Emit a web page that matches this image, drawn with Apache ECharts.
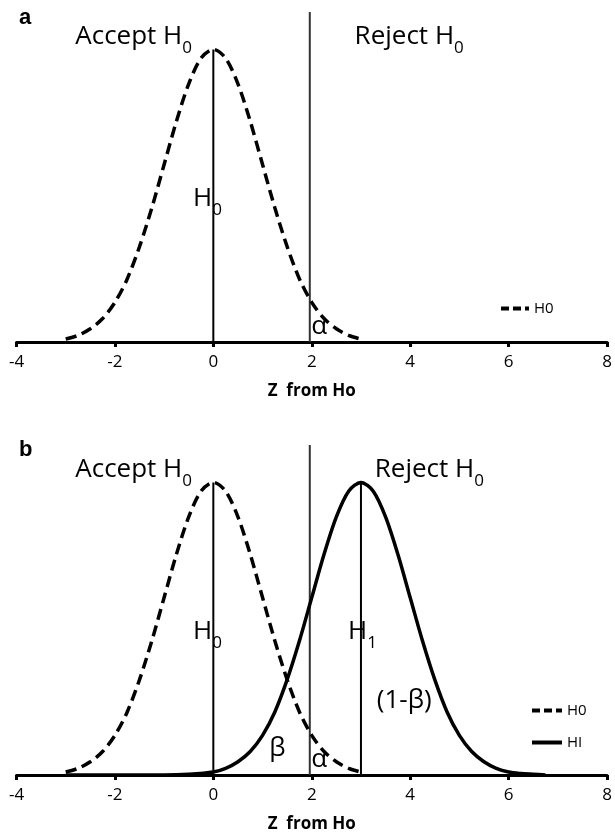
<!DOCTYPE html>
<html>
<head>
<meta charset="utf-8">
<script src="https://cdn.jsdelivr.net/npm/echarts@6/dist/echarts.min.js"></script>
<style>
  html, body { margin: 0; padding: 0; background: #fff; }
  #chart { width: 615px; height: 834px; }
</style>
</head>
<body>
<div id="chart"></div>
<script>
// z values and densities
const zH0 = [-3, -2.75, -2.5, -2.25, -2, -1.75, -1.5, -1.25, -1, -0.75, -0.5, -0.25, 0,
  0.25, 0.5, 0.75, 1, 1.25, 1.5, 1.75, 2, 2.25, 2.5, 2.75, 3]
const h0 = [0.004, 0.009, 0.018, 0.032, 0.054, 0.086, 0.130, 0.183, 0.242, 0.301, 0.352, 0.387, 0.399,
  0.387, 0.352, 0.301, 0.242, 0.183, 0.130, 0.086, 0.054, 0.032, 0.018, 0.009, 0.004]

const zH1 = [-3, -2, -1, -0.5, 0, 0.25, 0.5, 0.75, 1, 1.25, 1.5, 1.75, 2, 2.25, 2.5, 2.75, 3,
  3.25, 3.5, 3.75, 4, 4.25, 4.5, 4.75, 5, 5.25, 5.5, 5.75, 6, 6.25, 6.5, 6.75]
const h1 = [0, 0, 0, 0.001, 0.004, 0.009, 0.018, 0.032, 0.054, 0.086, 0.130, 0.183, 0.242, 0.301, 0.352, 0.387, 0.399,
  0.387, 0.352, 0.301, 0.242, 0.183, 0.130, 0.086, 0.054, 0.032, 0.018, 0.009, 0.004, 0.002, 0.001, 0]

// vertical reference lines
const h0Line = [[0, 0], [0, 0.399]]
const critLine = [[1.96, 0], [1.96, 0.45]]
const h1Line = [[3, 0], [3, 0.399]]

const xTicks = [-4, 8, 2] // min, max, step
const yMax = 0.45

// annotations [x, y, main text, subscript]
const notesA = [
  [-1.62, 0.416, 'Accept H', '0'],
  [3.98, 0.416, 'Reject H', '0'],
  [-0.12, 0.195, 'H', '0'],
  [2.15, 0.021, 'α', ''],
]
const notesB = [
  [-1.62, 0.416, 'Accept H', '0'],
  [4.39, 0.416, 'Reject H', '0'],
  [-0.12, 0.195, 'H', '0'],
  [3.03, 0.195, 'H', '1'],
  [1.30, 0.036, 'β', ''],
  [2.15, 0.021, 'α', ''],
  [3.88, 0.102, '(1-β)', ''],
]

const FONT = '"Open Sans", "Noto Sans", sans-serif'
const pair = (xs, ys) => xs.map((x, i) => [x, ys[i]])

function xAxis(i) {
  return {
    type: 'value', gridIndex: i,
    min: xTicks[0], max: xTicks[1], interval: xTicks[2],
    splitLine: { show: false },
    axisLine: { onZero: false, lineStyle: { color: '#000', width: 3 } },
    axisTick: { show: true, length: 5, lineStyle: { color: '#000', width: 3 } },
    axisLabel: { color: '#000', fontFamily: FONT, fontSize: 17, margin: 12 },
    name: 'Z  from Ho', nameLocation: 'middle', nameGap: 41,
    nameTextStyle: { color: '#000', fontFamily: FONT, fontSize: 17, fontWeight: 'bold' },
  }
}

function yAxis(i) {
  return { type: 'value', gridIndex: i, min: 0, max: yMax, show: false, splitLine: { show: false } }
}

function vline(i, data, color) {
  return {
    type: 'line', xAxisIndex: i, yAxisIndex: i, data, symbol: 'none', silent: true,
    lineStyle: { color, width: 2 }, z: 3,
  }
}

function notes(i, list) {
  return {
    type: 'scatter', xAxisIndex: i, yAxisIndex: i, silent: true,
    symbolSize: 1, itemStyle: { color: 'rgba(255,255,255,0)' }, z: 5,
    data: list.map(n => ({ value: [n[0], n[1]], main: n[2], sub: n[3] })),
    label: {
      show: true, position: 'inside', color: '#000', opacity: 1,
      formatter: p => p.data.sub ? `{m|${p.data.main}}{s|${p.data.sub}}` : `{m|${p.data.main}}`,
      rich: {
        m: { fontFamily: FONT, fontSize: 26, lineHeight: 40, color: '#000' },
        s: { fontFamily: FONT, fontSize: 17, lineHeight: 17, verticalAlign: 'bottom', color: '#000' },
      },
    },
  }
}

const h0Style = { color: '#000', width: 3.5, type: [11, 6] }
const h1Style = { color: '#000', width: 3.5 }
const dashKey = { name: 'H0', itemStyle: { opacity: 0 }, lineStyle: { type: [8, 4], width: 4, color: '#000' } }
const solidKey = { name: 'HI', itemStyle: { opacity: 0 }, lineStyle: { type: 'solid', width: 4, color: '#000' } }

const chart = echarts.init(document.getElementById('chart'), null, { renderer: 'canvas' })
chart.setOption({
  animation: false,
  backgroundColor: '#fff',
  title: [
    { text: 'a', left: 19, top: 7, padding: 0, textStyle: { fontFamily: 'Liberation Sans', fontSize: 22, fontWeight: 'bold', color: '#000' } },
    { text: 'b', left: 19, top: 439, padding: 0, textStyle: { fontFamily: 'Liberation Sans', fontSize: 22, fontWeight: 'bold', color: '#000' } },
  ],
  legend: [
    {
      data: [dashKey], orient: 'vertical', left: 499, top: 301, padding: 0,
      itemWidth: 28, itemHeight: 14, itemGap: 17,
      textStyle: { fontFamily: FONT, fontSize: 15, color: '#000' },
    },
    {
      data: [dashKey, solidKey], orient: 'vertical', left: 530, top: 703, padding: 0,
      itemWidth: 30, itemHeight: 14, itemGap: 17,
      textStyle: { fontFamily: FONT, fontSize: 15, color: '#000' },
    },
  ],
  grid: [
    { left: 16.5, right: 8, top: 12, height: 330 },
    { left: 16.5, right: 8, top: 445, height: 330 },
  ],
  xAxis: [xAxis(0), xAxis(1)],
  yAxis: [yAxis(0), yAxis(1)],
  series: [
    // panel a
    vline(0, h0Line, '#000'),
    vline(0, critLine, '#333'),
    {
      name: 'H0', type: 'line', xAxisIndex: 0, yAxisIndex: 0, data: pair(zH0, h0),
      smooth: 0.3, symbol: 'none', lineStyle: h0Style, itemStyle: { color: '#000' }, z: 4,
    },
    notes(0, notesA),
    // panel b
    vline(1, h0Line, '#000'),
    vline(1, critLine, '#333'),
    vline(1, h1Line, '#000'),
    {
      name: 'H0', type: 'line', xAxisIndex: 1, yAxisIndex: 1, data: pair(zH0, h0),
      smooth: 0.3, symbol: 'none', lineStyle: h0Style, itemStyle: { color: '#000' }, z: 4,
    },
    {
      name: 'HI', type: 'line', xAxisIndex: 1, yAxisIndex: 1, data: pair(zH1, h1),
      smooth: 0.3, symbol: 'none', lineStyle: h1Style, itemStyle: { color: '#000' }, z: 4,
    },
    notes(1, notesB),
  ],
})
</script>
</body>
</html>
